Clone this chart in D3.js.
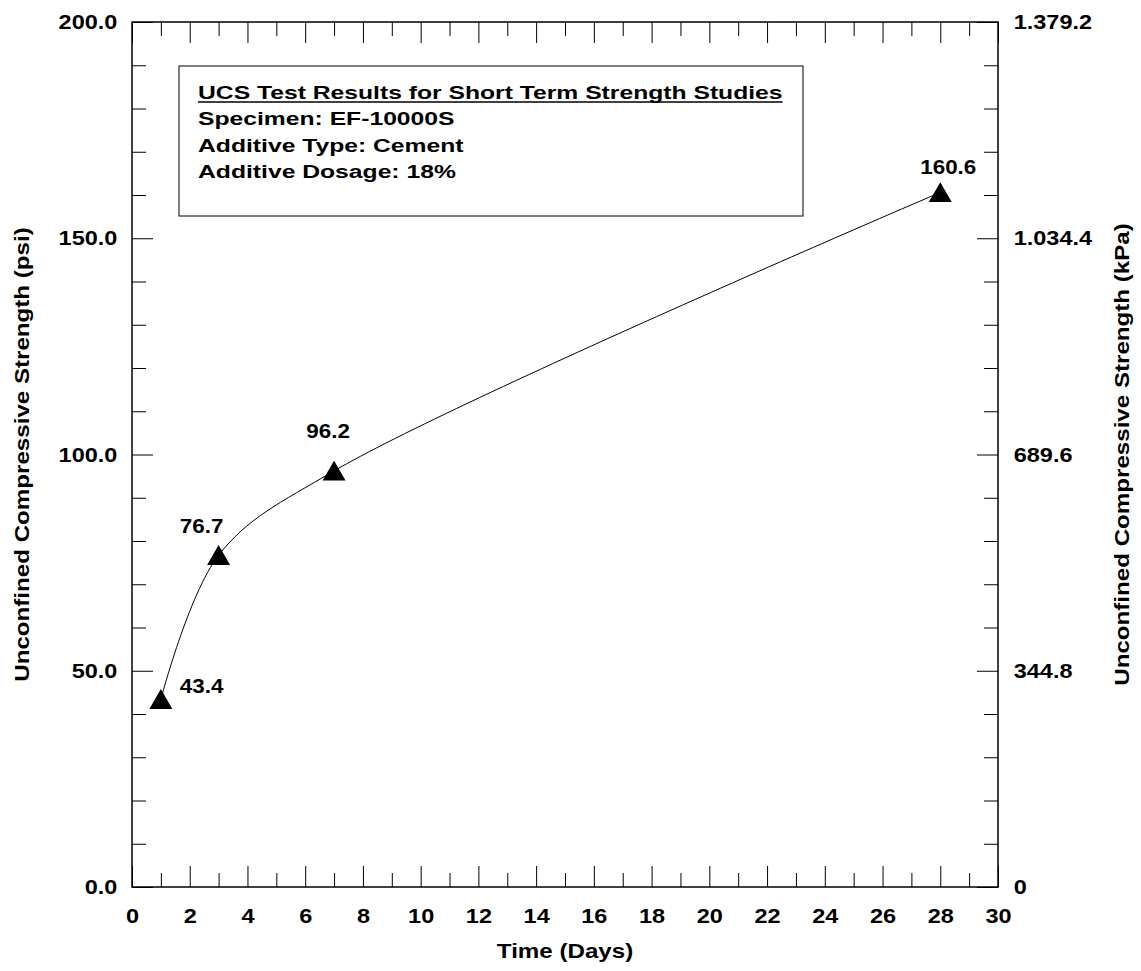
<!DOCTYPE html>
<html>
<head>
<meta charset="utf-8">
<script src="https://cdn.jsdelivr.net/npm/d3@7"></script>
<style>
  body { margin: 0; background: #fff; }
  text { font-family: "Liberation Sans", Arial, sans-serif; font-weight: bold; fill: #000; }
</style>
</head>
<body>
<svg id="chart" width="1141" height="971"></svg>
<script>
// chart data
const days = [1, 3, 7, 28]
const strengthPsi = [43.4, 76.7, 96.2, 160.6]
const pointLabels = ['43.4', '76.7', '96.2', '160.6']

// axis ticks and labels
const dayTicks = [0, 2, 4, 6, 8, 10, 12, 14, 16, 18, 20, 22, 24, 26, 28, 30]
const psiTicks = [0, 50, 100, 150, 200]
const psiLabels = ['0.0', '50.0', '100.0', '150.0', '200.0']
const kpaLabels = ['0', '344.8', '689.6', '1.034.4', '1.379.2']

const infoLines = [
  'UCS Test Results for Short Term Strength Studies',
  'Specimen: EF-10000S',
  'Additive Type: Cement',
  'Additive Dosage: 18%'
]

// layout
const plot = { left: 132, top: 22, right: 998, bottom: 887 }
const tickStretch = 1.12 // text in the original is a bit wider than tall
const titleStretch = 1.15
const labelOffsets = [[19, -6, 'start'], [-17, -22, 'middle'], [-6, -33, 'middle'], [8, -18, 'middle']]

const svg = d3.select('#chart')

const x = d3.scaleLinear().domain([0, 30]).range([plot.left, plot.right])
const y = d3.scaleLinear().domain([0, 200]).range([plot.bottom, plot.top])

function styleAxis (g, size) {
  g.attr('font-family', null).attr('font-size', size)
  g.select('.domain').remove()
  g.selectAll('line').attr('stroke', '#000').attr('stroke-width', 1)
  g.selectAll('text').attr('transform', `scale(${tickStretch},1)`)
}

const minorDays = d3.range(1, 30, 2)
const minorPsi = d3.range(10, 200, 10).filter(v => v % 50 !== 0)

// bottom
svg.append('g').attr('transform', `translate(0,${plot.bottom})`)
  .call(d3.axisBottom(x).tickValues(dayTicks).tickSize(-21).tickSizeOuter(0).tickPadding(21))
  .call(g => styleAxis(g, 21))
svg.append('g').attr('transform', `translate(0,${plot.bottom})`)
  .call(d3.axisBottom(x).tickValues(minorDays).tickSize(-14).tickSizeOuter(0).tickFormat(''))
  .call(g => styleAxis(g, 21))

// top
svg.append('g').attr('transform', `translate(0,${plot.top})`)
  .call(d3.axisTop(x).tickValues(dayTicks).tickSize(-21).tickSizeOuter(0).tickFormat(''))
  .call(g => styleAxis(g, 21))
svg.append('g').attr('transform', `translate(0,${plot.top})`)
  .call(d3.axisTop(x).tickValues(minorDays).tickSize(-14).tickSizeOuter(0).tickFormat(''))
  .call(g => styleAxis(g, 21))

// left (psi)
svg.append('g').attr('transform', `translate(${plot.left},0)`)
  .call(d3.axisLeft(y).tickValues(psiTicks).tickSize(-21).tickSizeOuter(0).tickPadding(13)
    .tickFormat((d, i) => psiLabels[i]))
  .call(g => styleAxis(g, 21))
svg.append('g').attr('transform', `translate(${plot.left},0)`)
  .call(d3.axisLeft(y).tickValues(minorPsi).tickSize(-14).tickSizeOuter(0).tickFormat(''))
  .call(g => styleAxis(g, 21))

// right (kPa, same positions)
svg.append('g').attr('transform', `translate(${plot.right},0)`)
  .call(d3.axisRight(y).tickValues(psiTicks).tickSize(-21).tickSizeOuter(0).tickPadding(14)
    .tickFormat((d, i) => kpaLabels[i]))
  .call(g => styleAxis(g, 21))
svg.append('g').attr('transform', `translate(${plot.right},0)`)
  .call(d3.axisRight(y).tickValues(minorPsi).tickSize(-14).tickSizeOuter(0).tickFormat(''))
  .call(g => styleAxis(g, 21))

// frame
svg.append('rect')
  .attr('x', plot.left).attr('y', plot.top)
  .attr('width', plot.right - plot.left).attr('height', plot.bottom - plot.top)
  .attr('fill', 'none').attr('stroke', '#000').attr('stroke-width', 1.5)

// axis titles
svg.append('text')
  .attr('transform', `translate(${(plot.left + plot.right) / 2},958) scale(${titleStretch},1)`)
  .attr('text-anchor', 'middle').attr('font-size', 21)
  .text('Time (Days)')
svg.append('text')
  .attr('transform', `translate(29,${(plot.top + plot.bottom) / 2}) rotate(-90) scale(${titleStretch},1)`)
  .attr('text-anchor', 'middle').attr('font-size', 21)
  .text('Unconfined Compressive Strength (psi)')
svg.append('text')
  .attr('transform', `translate(1129,${(plot.top + plot.bottom) / 2}) rotate(-90) scale(${titleStretch},1)`)
  .attr('text-anchor', 'middle').attr('font-size', 21)
  .text('Unconfined Compressive Strength (kPa)')

// info box
const box = svg.append('g')
box.append('rect')
  .attr('x', 179).attr('y', 66).attr('width', 624).attr('height', 150)
  .attr('fill', '#fff').attr('stroke', '#000').attr('stroke-width', 1)
const boxStretch = 1.3
infoLines.forEach((line, i) => {
  const t = box.append('text')
    .attr('transform', `translate(198,${99 + i * 26.4}) scale(${boxStretch},1)`)
    .attr('font-size', 19)
    .text(line)
  if (i === 0) {
    const w = t.node().getComputedTextLength() * boxStretch
    box.append('line')
      .attr('x1', 198).attr('x2', 198 + w).attr('y1', 102).attr('y2', 102)
      .attr('stroke', '#000').attr('stroke-width', 1.5)
  }
})

// data
const points = days.map((d, i) => ({ day: d, psi: strengthPsi[i], label: pointLabels[i] }))

svg.append('path')
  .datum(points)
  .attr('fill', 'none').attr('stroke', '#000').attr('stroke-width', 1)
  .attr('d', d3.line().x(d => x(d.day)).y(d => y(d.psi)).curve(d3.curveCatmullRom))

const tri = d3.symbol().type(d3.symbolTriangle).size(229)
svg.append('g').selectAll('path')
  .data(points)
  .join('path')
  .attr('transform', d => `translate(${x(d.day)},${y(d.psi) + 3})`)
  .attr('d', tri)
  .attr('fill', '#000')

svg.append('g').selectAll('text')
  .data(points)
  .join('text')
  .attr('transform', (d, i) => `translate(${x(d.day) + labelOffsets[i][0]},${y(d.psi) + labelOffsets[i][1]}) scale(${tickStretch},1)`)
  .attr('text-anchor', (d, i) => labelOffsets[i][2])
  .attr('font-size', 20)
  .text(d => d.label)
</script>
</body>
</html>
